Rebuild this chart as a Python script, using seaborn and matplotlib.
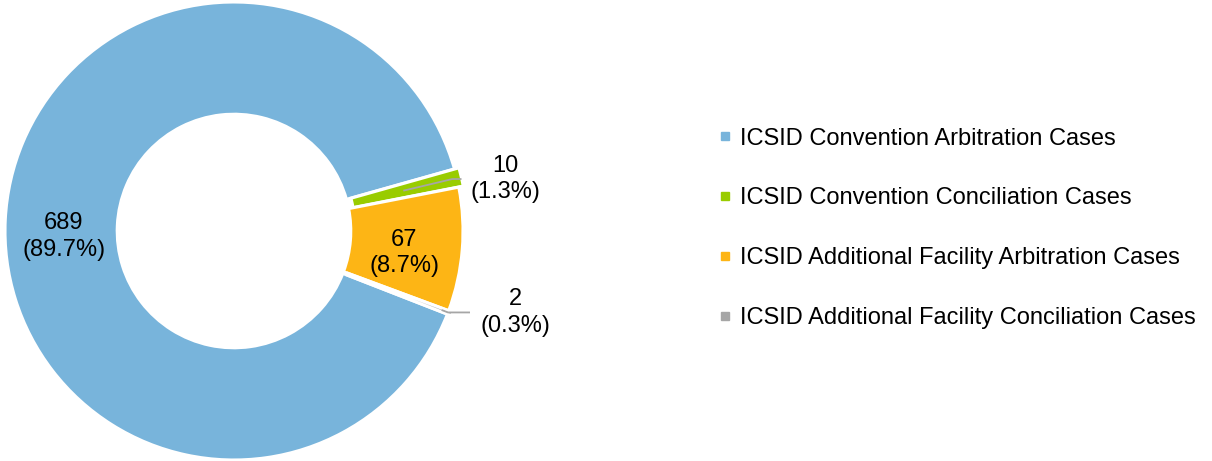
import numpy as np
import matplotlib
matplotlib.use('Agg')
import matplotlib.pyplot as plt
from matplotlib.lines import Line2D
import seaborn as sns

CATEGORIES = [
    'ICSID Convention Arbitration Cases',
    'ICSID Convention Conciliation Cases',
    'ICSID Additional Facility Arbitration Cases',
    'ICSID Additional Facility Conciliation Cases',
]
CASES = [689, 10, 67, 2]
PERCENTS = [89.7, 1.3, 8.7, 0.3]
COLORS = ['#78B4DB', '#99CC00', '#FDB515', '#A6A6A6']

sns.set_theme(style='white')
plt.rcParams['font.family'] = ['Liberation Sans', 'DejaVu Sans']
plt.rcParams['text.color'] = 'black'

W, H = 1212, 461
fig = plt.figure(figsize=(W / 100, H / 100), dpi=100)

# donut centre (234, 231) px, radius 229 px
cx, cy, R = 234, 230, 229
ax = fig.add_axes([0, 0, 470 / W, 1])

start = -21.3
explode = [0, 0.02, 0, 0.02]
wedges, _ = ax.pie(CASES, colors=COLORS, startangle=start, counterclock=False,
                   explode=explode, radius=1.0,
                   wedgeprops=dict(width=0.49, edgecolor='white', linewidth=2.2))
ax.set_aspect('auto')
ax.set_xlim(-cx / R, (470 - cx) / R)
ax.set_ylim(-cy / R, (H - cy) / R)
ax.axis('off')

# mid angles of each slice
total = sum(CASES)
angles = []
a = start
for v in CASES:
    span = 360 * v / total
    angles.append(a - span / 2)
    a -= span

fs = 17
for i, (v, p) in enumerate(zip(CASES, PERCENTS)):
    txt = f'{v}\n({p}%)'
    th = np.deg2rad(angles[i])
    if v >= 50:
        r = 0.745
        dy = -0.035 if np.cos(th) > 0 else -0.06
        ax.text(r * np.cos(th), r * np.sin(th) + dy, txt, ha='center', va='center',
                fontsize=fs, color='black', linespacing=1.25)
    else:
        if v > 5:
            r0, r1, ext = 0.76, 0.98, 0.04
        else:
            r0, r1, ext = 0.97, 1.0, 0.1
        x0, y0 = r0 * np.cos(th), r0 * np.sin(th)
        x1, y1 = r1 * np.cos(th), r1 * np.sin(th)
        x2 = x1 + ext
        ax.plot([x0, x1, x2], [y0, y1, y1], color='#A6A6A6', lw=1.3,
                solid_capstyle='butt')
        ax.text(x2 + 0.04, y1, txt, ha='left', va='center', multialignment='center',
                fontsize=fs, color='black', linespacing=1.25)

handles = [Line2D([], [], marker='s', linestyle='none', markersize=5.5,
                  markerfacecolor=c, markeredgecolor=c) for c in COLORS]
fig.legend(handles, CATEGORIES, loc='center left', bbox_to_anchor=(718 / W, 0.505),
           frameon=False, fontsize=fs, handlelength=0.6, handletextpad=0.35,
           labelspacing=1.6, borderpad=0, borderaxespad=0, labelcolor='black')

fig.savefig('out.png', dpi=100)
